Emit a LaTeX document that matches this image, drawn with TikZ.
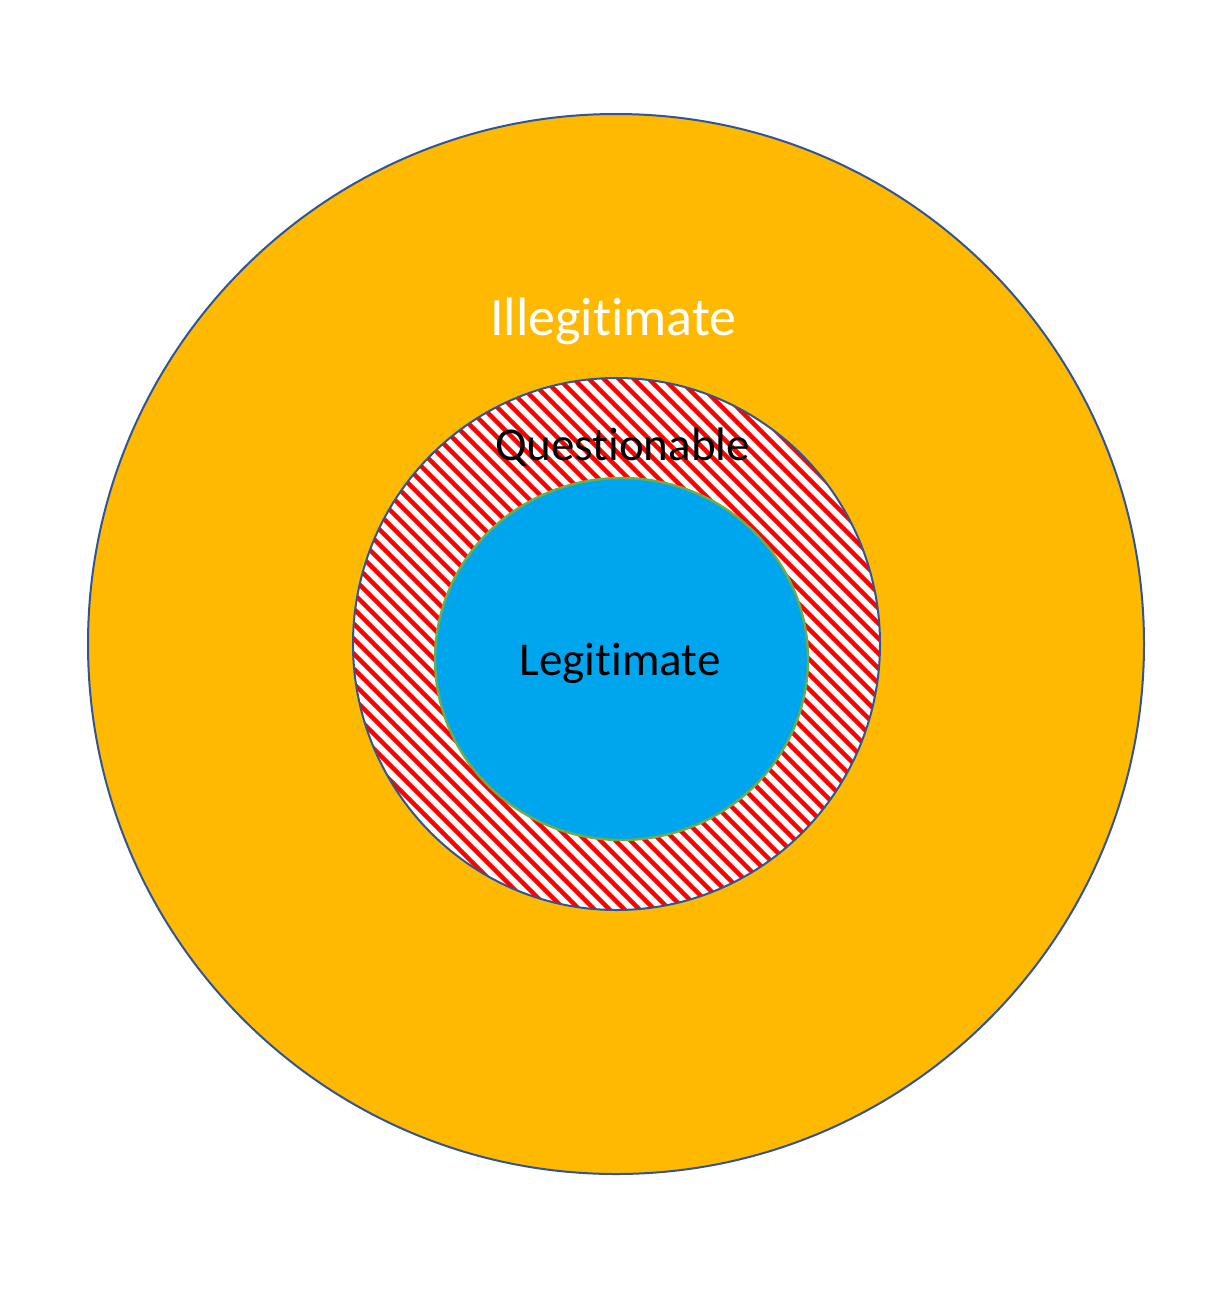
\documentclass[tikz,border=0pt]{standalone}
\usepackage{fontspec}
\setmainfont{Carlito}[RawFeature=-liga]
\definecolor{ringorange}{RGB}{255,185,0}
\definecolor{coreblue}{RGB}{0,166,237}
\definecolor{edgeblue}{RGB}{47,85,151}
\definecolor{edgegreen}{RGB}{112,173,71}
\definecolor{hatchred}{RGB}{255,0,0}
\tikzset{
  lbl/.style={anchor=base, inner sep=0pt, font=\fontsize{47}{56}\selectfont},
  biglbl/.style={anchor=base, inner sep=0pt, font=\fontsize{54}{64}\selectfont, text=white}
}
\begin{document}
\begin{tikzpicture}[x=1pt,y=-1pt]
\useasboundingbox (0,0) rectangle (1218,1294);
\fill[white] (0,0) rectangle (1218,1294);
% outer ring
\filldraw[fill=ringorange, draw=edgeblue, line width=2pt] (616,644) ellipse [x radius=528, y radius=530];
% middle hatched disc
\fill[white] (616.5,644) ellipse [x radius=263.5, y radius=266];
\begin{scope}
  \clip (616.5,644) ellipse [x radius=263.5, y radius=266];
  \foreach \c in {-585,-570,...,525} {
    \draw[hatchred, line width=4.3pt] (\c+300,300) -- (\c+1000,1000);
  }
\end{scope}
\draw[edgeblue, line width=2pt] (616.5,644) ellipse [x radius=263.5, y radius=266];
% inner disc
\filldraw[fill=coreblue, draw=edgegreen, line width=2.4pt] (621.5,659) ellipse [x radius=186.5, y radius=181];
% labels
\node[biglbl] (illeg) at (613.5,335) {Illegitimate};
\node[lbl] (quest) at (622.5,460) {Questionable};
\node[lbl] (legit) at (620,675) {Legitimate};
\end{tikzpicture}
\end{document}
